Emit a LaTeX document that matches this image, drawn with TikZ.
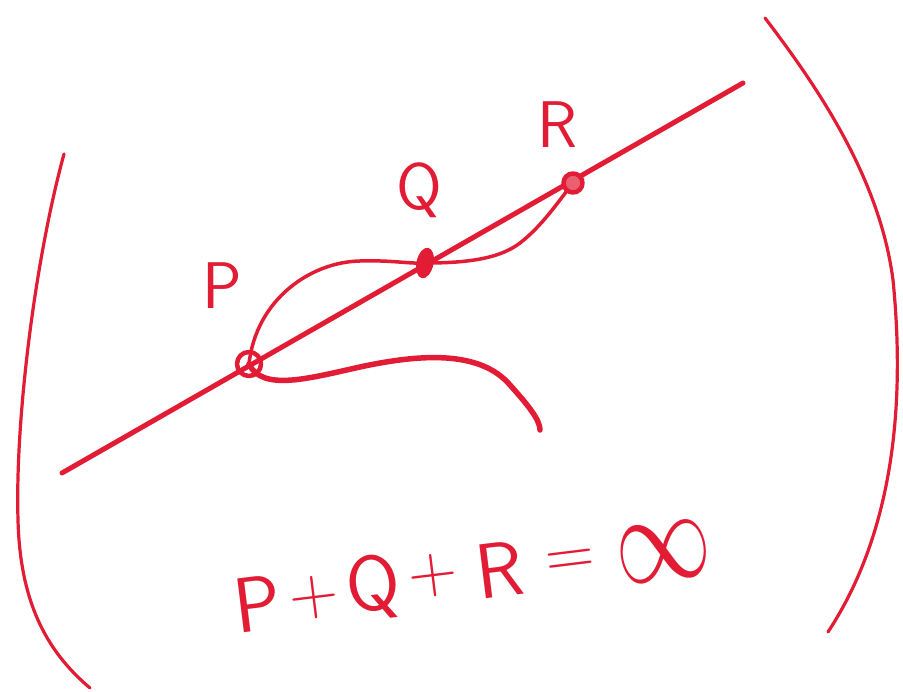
\documentclass[tikz,border=0pt]{standalone}
\usepackage{fontspec}
\usetikzlibrary{shapes.geometric}
\begin{document}
\begin{tikzpicture}[x=1pt,y=-1pt,line cap=round,line join=round]
\definecolor{ink}{RGB}{225,28,52}
\tikzset{
  mainline/.style={draw=ink,line width=5pt},
  thinline/.style={draw=ink,line width=3.5pt},
  fatline/.style={draw=ink,line width=5.5pt},
  paren/.style={draw=ink,line width=3.2pt},
  ring/.style={circle,draw=ink,line width=4.5pt,inner sep=0pt},
  blob/.style={ellipse,fill=ink,inner sep=0pt},
  lab/.style={text=ink,font=\sffamily\fontsize{66}{70}\selectfont,inner sep=0pt},
  eqlab/.style={text=ink,font=\sffamily\fontsize{78}{82}\selectfont,inner sep=0pt,rotate=7},
  pluslab/.style={text=ink,font=\sffamily\fontsize{68}{72}\selectfont,inner sep=0pt,rotate=7},
  inflab/.style={text=ink,inner sep=0pt,rotate=7}
}
\useasboundingbox (0,0) rectangle (903,692);
\fill[white] (0,0) rectangle (903,692);
\coordinate (L1) at (62,473);
\coordinate (L2) at (743,83);
\coordinate (P) at (249,364);
\coordinate (Q) at (425,263);
\coordinate (R) at (573,183);
\coordinate (E) at (540,430);
\coordinate (PT) at (64,154);
\coordinate (PB) at (90,688);
\coordinate (RT) at (765,18);
\coordinate (RB) at (828,632);
% parentheses
\draw[paren] (PT) .. controls (35,260) and (15,420) .. (18,520) .. controls (20,600) and (45,650) .. (PB);
\draw[paren] (RT) .. controls (820,90) and (880,180) .. (893,280) .. controls (905,400) and (895,530) .. (RB);
% the line
\draw[mainline] (L1) -- (L2);
% curve through P, Q, R
\draw[thinline] (P) .. controls (256,300) and (310,262) .. (360,261) .. controls (392,260) and (410,264) .. (Q) .. controls (462,263) and (498,260) .. (520,243) .. controls (542,226) and (558,202) .. (R);
% lower branch
\draw[fatline] (P) .. controls (262,392) and (310,378) .. (360,367) .. controls (420,354) and (480,350) .. (510,385) .. controls (528,405) and (540,420) .. (E);
% points
\node[ring,minimum size=24pt] (Pd) at (P) {};
\node[blob,minimum width=17pt,minimum height=31pt,rotate=-12] (Qd) at (Q) {};
\node[ring,minimum size=19pt,fill=ink!70] (Rd) at (R) {};
% labels
\node[lab] (Plab) at (222,286) {P};
\node[lab] (Qlab) at (419,190) {Q};
\node[lab] (Rlab) at (557,125) {R};
% equation
\node[eqlab] (e1) at (257,604) {P};
\node[pluslab] (e2) at (314,598) {+};
\node[eqlab] (e3) at (374,588) {Q};
\node[pluslab] (e4) at (433,576) {+};
\node[eqlab] (e5) at (500,570) {R};
\node[pluslab] (e6) at (571,563) {=};
\node[inflab] (e7) at (664,552) {\resizebox{96pt}{56pt}{$\infty$}};
\end{tikzpicture}
\end{document}
